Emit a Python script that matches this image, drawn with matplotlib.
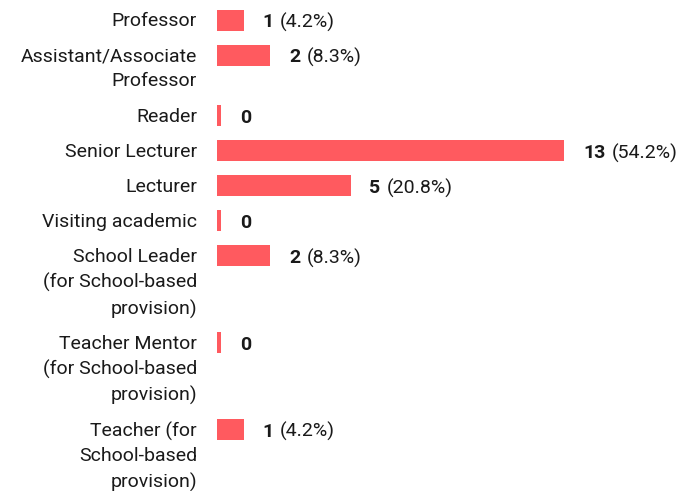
import matplotlib
matplotlib.use("Agg")
import matplotlib.pyplot as plt

# Survey responses by role
categories = [
    "Professor",
    "Assistant/Associate\nProfessor",
    "Reader",
    "Senior Lecturer",
    "Lecturer",
    "Visiting academic",
    "School Leader\n(for School-based\nprovision)",
    "Teacher Mentor\n(for School-based\nprovision)",
    "Teacher (for\nSchool-based\nprovision)",
]
counts = [1, 2, 0, 13, 5, 0, 2, 0, 1]
percents = ["4.2%", "8.3%", "", "54.2%", "20.8%", "", "8.3%", "", "4.2%"]

BAR_COLOR = "#FF5A5F"
TEXT_COLOR = "#1a1a1a"
FONT = "Roboto"
FS = 14

plt.rcParams["font.family"] = [FONT, "DejaVu Sans"]

fig = plt.figure(figsize=(6.84, 4.91), dpi=100)
ax = fig.add_axes([217 / 684, 0, 1 - 217 / 684, 1])

# Row positions: each row grows with the number of lines in its label
ROW = 1.0
EXTRA_LINE = 0.74
positions = []
y = 0.0
for i, cat in enumerate(categories):
    positions.append(y)
    y += ROW + EXTRA_LINE * (cat.count("\n"))

MIN_VISIBLE = 0.15  # stub width so zero counts still show a mark
widths = [c if c > 0 else MIN_VISIBLE for c in counts]
ax.barh(positions, widths, height=0.6, color=BAR_COLOR, align="center")

for pos, cat, c, pct in zip(positions, categories, counts, percents):
    ax.annotate(cat, xy=(0, pos), xytext=(-20, 8), textcoords="offset pixels",
                ha="right", va="top", fontsize=FS,
                color=TEXT_COLOR, linespacing=1.48, annotation_clip=False)
    bold = ax.annotate(str(c), xy=(max(c, MIN_VISIBLE), pos), xytext=(19, 0),
                       textcoords="offset pixels", ha="left",
                       va="center_baseline", fontsize=FS, fontweight="bold",
                       color=TEXT_COLOR)
    if pct:
        ax.annotate(f"({pct})", xy=(1, pos), xycoords=(bold, "data"),
                    xytext=(6, 0), textcoords="offset pixels", ha="left",
                    va="center_baseline", fontsize=FS, color=TEXT_COLOR)

ax.set_xlim(0, 467 / 26.7)
ax.set_ylim((491 - 20) / 35, -20 / 35)
ax.axis("off")

fig.savefig("out.png", dpi=100)
